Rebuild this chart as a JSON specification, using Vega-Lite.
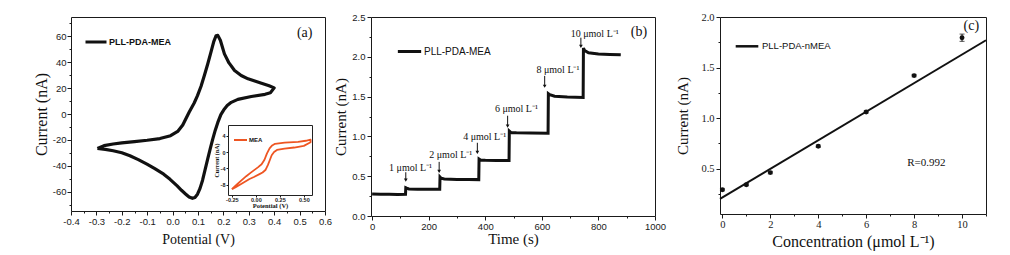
{
  "$schema": "https://vega.github.io/schema/vega-lite/v6.json",
  "background": "white",
  "padding": {"left": 32, "top": 11, "right": 5, "bottom": 5},
  "spacing": 0,
  "datasets": {
    "cv": [
      {"i": 1, "potential": -0.296, "current": -26.6, "series": "PLL-PDA-MEA"},
      {"i": 2, "potential": -0.27, "current": -24.5, "series": "PLL-PDA-MEA"},
      {"i": 3, "potential": -0.234, "current": -23.2, "series": "PLL-PDA-MEA"},
      {"i": 4, "potential": -0.2, "current": -22.3, "series": "PLL-PDA-MEA"},
      {"i": 5, "potential": -0.15, "current": -21.3, "series": "PLL-PDA-MEA"},
      {"i": 6, "potential": -0.1, "current": -20.3, "series": "PLL-PDA-MEA"},
      {"i": 7, "potential": -0.05, "current": -19.0, "series": "PLL-PDA-MEA"},
      {"i": 8, "potential": -0.008, "current": -16.8, "series": "PLL-PDA-MEA"},
      {"i": 9, "potential": 0.02, "current": -13.5, "series": "PLL-PDA-MEA"},
      {"i": 10, "potential": 0.04, "current": -8.5, "series": "PLL-PDA-MEA"},
      {"i": 11, "potential": 0.065, "current": 1.3, "series": "PLL-PDA-MEA"},
      {"i": 12, "potential": 0.085, "current": 8.5, "series": "PLL-PDA-MEA"},
      {"i": 13, "potential": 0.098, "current": 14.2, "series": "PLL-PDA-MEA"},
      {"i": 14, "potential": 0.112, "current": 21.5, "series": "PLL-PDA-MEA"},
      {"i": 15, "potential": 0.125, "current": 29.7, "series": "PLL-PDA-MEA"},
      {"i": 16, "potential": 0.138, "current": 38.5, "series": "PLL-PDA-MEA"},
      {"i": 17, "potential": 0.151, "current": 47.8, "series": "PLL-PDA-MEA"},
      {"i": 18, "potential": 0.162, "current": 56.0, "series": "PLL-PDA-MEA"},
      {"i": 19, "potential": 0.171, "current": 60.5, "series": "PLL-PDA-MEA"},
      {"i": 20, "potential": 0.178, "current": 60.8, "series": "PLL-PDA-MEA"},
      {"i": 21, "potential": 0.188, "current": 57.0, "series": "PLL-PDA-MEA"},
      {"i": 22, "potential": 0.204, "current": 46.5, "series": "PLL-PDA-MEA"},
      {"i": 23, "potential": 0.222, "current": 39.5, "series": "PLL-PDA-MEA"},
      {"i": 24, "potential": 0.244, "current": 33.6, "series": "PLL-PDA-MEA"},
      {"i": 25, "potential": 0.27, "current": 29.8, "series": "PLL-PDA-MEA"},
      {"i": 26, "potential": 0.297, "current": 27.2, "series": "PLL-PDA-MEA"},
      {"i": 27, "potential": 0.35, "current": 23.8, "series": "PLL-PDA-MEA"},
      {"i": 28, "potential": 0.38, "current": 21.8, "series": "PLL-PDA-MEA"},
      {"i": 29, "potential": 0.4, "current": 20.2, "series": "PLL-PDA-MEA"},
      {"i": 30, "potential": 0.385, "current": 16.5, "series": "PLL-PDA-MEA"},
      {"i": 31, "potential": 0.364, "current": 15.2, "series": "PLL-PDA-MEA"},
      {"i": 32, "potential": 0.31, "current": 13.5, "series": "PLL-PDA-MEA"},
      {"i": 33, "potential": 0.257, "current": 11.3, "series": "PLL-PDA-MEA"},
      {"i": 34, "potential": 0.231, "current": 9.0, "series": "PLL-PDA-MEA"},
      {"i": 35, "potential": 0.215, "current": 6.5, "series": "PLL-PDA-MEA"},
      {"i": 36, "potential": 0.204, "current": 3.9, "series": "PLL-PDA-MEA"},
      {"i": 37, "potential": 0.19, "current": -0.5, "series": "PLL-PDA-MEA"},
      {"i": 38, "potential": 0.178, "current": -6.5, "series": "PLL-PDA-MEA"},
      {"i": 39, "potential": 0.168, "current": -12.5, "series": "PLL-PDA-MEA"},
      {"i": 40, "potential": 0.158, "current": -19.4, "series": "PLL-PDA-MEA"},
      {"i": 41, "potential": 0.148, "current": -27.0, "series": "PLL-PDA-MEA"},
      {"i": 42, "potential": 0.138, "current": -34.9, "series": "PLL-PDA-MEA"},
      {"i": 43, "potential": 0.128, "current": -43.0, "series": "PLL-PDA-MEA"},
      {"i": 44, "potential": 0.118, "current": -51.2, "series": "PLL-PDA-MEA"},
      {"i": 45, "potential": 0.108, "current": -57.5, "series": "PLL-PDA-MEA"},
      {"i": 46, "potential": 0.098, "current": -62.0, "series": "PLL-PDA-MEA"},
      {"i": 47, "potential": 0.088, "current": -64.5, "series": "PLL-PDA-MEA"},
      {"i": 48, "potential": 0.078, "current": -65.2, "series": "PLL-PDA-MEA"},
      {"i": 49, "potential": 0.065, "current": -64.2, "series": "PLL-PDA-MEA"},
      {"i": 50, "potential": 0.052, "current": -62.0, "series": "PLL-PDA-MEA"},
      {"i": 51, "potential": 0.035, "current": -59.0, "series": "PLL-PDA-MEA"},
      {"i": 52, "potential": 0.018, "current": -55.6, "series": "PLL-PDA-MEA"},
      {"i": 53, "potential": -0.01, "current": -50.5, "series": "PLL-PDA-MEA"},
      {"i": 54, "potential": -0.035, "current": -46.5, "series": "PLL-PDA-MEA"},
      {"i": 55, "potential": -0.07, "current": -42.3, "series": "PLL-PDA-MEA"},
      {"i": 56, "potential": -0.101, "current": -38.8, "series": "PLL-PDA-MEA"},
      {"i": 57, "potential": -0.135, "current": -35.3, "series": "PLL-PDA-MEA"},
      {"i": 58, "potential": -0.168, "current": -32.3, "series": "PLL-PDA-MEA"},
      {"i": 59, "potential": -0.2, "current": -30.0, "series": "PLL-PDA-MEA"},
      {"i": 60, "potential": -0.234, "current": -28.4, "series": "PLL-PDA-MEA"},
      {"i": 61, "potential": -0.265, "current": -27.3, "series": "PLL-PDA-MEA"},
      {"i": 62, "potential": -0.296, "current": -26.6, "series": "PLL-PDA-MEA"}
    ],
    "inset": [
      {"i": 1, "potential": -0.25, "current": -9.1, "series": "MEA"},
      {"i": 2, "potential": -0.2, "current": -8.0, "series": "MEA"},
      {"i": 3, "potential": -0.153, "current": -7.0, "series": "MEA"},
      {"i": 4, "potential": -0.1, "current": -5.9, "series": "MEA"},
      {"i": 5, "potential": -0.049, "current": -4.97, "series": "MEA"},
      {"i": 6, "potential": 0.021, "current": -3.75, "series": "MEA"},
      {"i": 7, "potential": 0.06, "current": -3.0, "series": "MEA"},
      {"i": 8, "potential": 0.09, "current": -1.9, "series": "MEA"},
      {"i": 9, "potential": 0.115, "current": -0.4, "series": "MEA"},
      {"i": 10, "potential": 0.143, "current": 0.9, "series": "MEA"},
      {"i": 11, "potential": 0.17, "current": 1.6, "series": "MEA"},
      {"i": 12, "potential": 0.2, "current": 2.0, "series": "MEA"},
      {"i": 13, "potential": 0.3, "current": 2.3, "series": "MEA"},
      {"i": 14, "potential": 0.44, "current": 2.5, "series": "MEA"},
      {"i": 15, "potential": 0.52, "current": 2.75, "series": "MEA"},
      {"i": 16, "potential": 0.57, "current": 3.0, "series": "MEA"},
      {"i": 17, "potential": 0.57, "current": 2.4, "series": "MEA"},
      {"i": 18, "potential": 0.5, "current": 1.5, "series": "MEA"},
      {"i": 19, "potential": 0.4, "current": 1.1, "series": "MEA"},
      {"i": 20, "potential": 0.299, "current": 0.85, "series": "MEA"},
      {"i": 21, "potential": 0.22, "current": 0.5, "series": "MEA"},
      {"i": 22, "potential": 0.19, "current": 0.0, "series": "MEA"},
      {"i": 23, "potential": 0.165, "current": -0.8, "series": "MEA"},
      {"i": 24, "potential": 0.145, "current": -2.0, "series": "MEA"},
      {"i": 25, "potential": 0.125, "current": -3.2, "series": "MEA"},
      {"i": 26, "potential": 0.1, "current": -4.4, "series": "MEA"},
      {"i": 27, "potential": 0.07, "current": -5.0, "series": "MEA"},
      {"i": 28, "potential": 0.038, "current": -5.4, "series": "MEA"},
      {"i": 29, "potential": -0.02, "current": -6.1, "series": "MEA"},
      {"i": 30, "potential": -0.066, "current": -6.6, "series": "MEA"},
      {"i": 31, "potential": -0.153, "current": -7.8, "series": "MEA"},
      {"i": 32, "potential": -0.21, "current": -8.6, "series": "MEA"},
      {"i": 33, "potential": -0.25, "current": -9.1, "series": "MEA"}
    ],
    "amp": [
      {"t": 0, "current": 0.275, "series": "PLL-PDA-MEA"},
      {"t": 30, "current": 0.272, "series": "PLL-PDA-MEA"},
      {"t": 60, "current": 0.274, "series": "PLL-PDA-MEA"},
      {"t": 90, "current": 0.271, "series": "PLL-PDA-MEA"},
      {"t": 118, "current": 0.272, "series": "PLL-PDA-MEA"},
      {"t": 119, "current": 0.355, "series": "PLL-PDA-MEA"},
      {"t": 122, "current": 0.35, "series": "PLL-PDA-MEA"},
      {"t": 130, "current": 0.34, "series": "PLL-PDA-MEA"},
      {"t": 160, "current": 0.337, "series": "PLL-PDA-MEA"},
      {"t": 200, "current": 0.336, "series": "PLL-PDA-MEA"},
      {"t": 239, "current": 0.335, "series": "PLL-PDA-MEA"},
      {"t": 240, "current": 0.49, "series": "PLL-PDA-MEA"},
      {"t": 244, "current": 0.475, "series": "PLL-PDA-MEA"},
      {"t": 255, "current": 0.465, "series": "PLL-PDA-MEA"},
      {"t": 300, "current": 0.46, "series": "PLL-PDA-MEA"},
      {"t": 340, "current": 0.458, "series": "PLL-PDA-MEA"},
      {"t": 377, "current": 0.457, "series": "PLL-PDA-MEA"},
      {"t": 378, "current": 0.715, "series": "PLL-PDA-MEA"},
      {"t": 383, "current": 0.703, "series": "PLL-PDA-MEA"},
      {"t": 400, "current": 0.699, "series": "PLL-PDA-MEA"},
      {"t": 440, "current": 0.698, "series": "PLL-PDA-MEA"},
      {"t": 484, "current": 0.697, "series": "PLL-PDA-MEA"},
      {"t": 485, "current": 1.066, "series": "PLL-PDA-MEA"},
      {"t": 490, "current": 1.05, "series": "PLL-PDA-MEA"},
      {"t": 510, "current": 1.046, "series": "PLL-PDA-MEA"},
      {"t": 560, "current": 1.043, "series": "PLL-PDA-MEA"},
      {"t": 622, "current": 1.04, "series": "PLL-PDA-MEA"},
      {"t": 623, "current": 1.538, "series": "PLL-PDA-MEA"},
      {"t": 628, "current": 1.525, "series": "PLL-PDA-MEA"},
      {"t": 645, "current": 1.505, "series": "PLL-PDA-MEA"},
      {"t": 690, "current": 1.495, "series": "PLL-PDA-MEA"},
      {"t": 746, "current": 1.488, "series": "PLL-PDA-MEA"},
      {"t": 747, "current": 2.11, "series": "PLL-PDA-MEA"},
      {"t": 751, "current": 2.08, "series": "PLL-PDA-MEA"},
      {"t": 765, "current": 2.05, "series": "PLL-PDA-MEA"},
      {"t": 800, "current": 2.035, "series": "PLL-PDA-MEA"},
      {"t": 840, "current": 2.03, "series": "PLL-PDA-MEA"},
      {"t": 879, "current": 2.025, "series": "PLL-PDA-MEA"}
    ],
    "ampLabels": [
      {"t": 136, "y": 0.606, "label": "1 μmol L⁻¹"},
      {"t": 278, "y": 0.765, "label": "2 μmol L⁻¹"},
      {"t": 398, "y": 0.995, "label": "4 μmol L⁻¹"},
      {"t": 510, "y": 1.338, "label": "6 μmol L⁻¹"},
      {"t": 657, "y": 1.84, "label": "8 μmol L⁻¹"},
      {"t": 787, "y": 2.287, "label": "10 μmol L⁻¹"}
    ],
    "arrows": [
      {"t": 119, "top": 0.55, "tip": 0.45},
      {"t": 237, "top": 0.68, "tip": 0.56},
      {"t": 372, "top": 0.92, "tip": 0.8},
      {"t": 479, "top": 1.26, "tip": 1.13},
      {"t": 610, "top": 1.76, "tip": 1.63},
      {"t": 738, "top": 2.24, "tip": 2.13}
    ],
    "calib": [
      {"c": 0, "current": 0.29, "lo": 0.28, "hi": 0.3},
      {"c": 1, "current": 0.34, "lo": 0.33, "hi": 0.35},
      {"c": 2, "current": 0.46, "lo": 0.448, "hi": 0.472},
      {"c": 4, "current": 0.72, "lo": 0.708, "hi": 0.732},
      {"c": 6, "current": 1.06, "lo": 1.05, "hi": 1.07},
      {"c": 8, "current": 1.42, "lo": 1.408, "hi": 1.432},
      {"c": 10, "current": 1.795, "lo": 1.759, "hi": 1.831}
    ],
    "fit": [
      {"c": -0.1, "fit": 0.2, "series": "PLL-PDA-nMEA"},
      {"c": 11, "fit": 1.77, "series": "PLL-PDA-nMEA"}
    ],
    "letters": [
      {"panel": "a", "x": 0.52, "y": 62.4, "label": "(a)"},
      {"panel": "b", "x": 943, "y": 2.31, "label": "(b)"},
      {"panel": "c", "x": 10.39, "y": 1.908, "label": "(c)"}
    ],
    "rnote": [
      {"c": 8.51, "y": 0.555, "label": "R=0.992"}
    ]
  },
  "hconcat": [
    {
      "width": 254,
      "height": 194,
      "layer": [
        {
          "layer": [
            {
              "data": {"name": "cv"},
              "mark": {"type": "line", "strokeWidth": 3.2, "strokeJoin": "round"},
              "encoding": {
                "x": {
                  "field": "potential", "type": "quantitative",
                  "scale": {"domain": [-0.4, 0.6], "nice": false, "zero": false},
                  "axis": {
                    "orient": "bottom",
                    "title": "Potential (V)", "titleFontSize": 14, "titlePadding": 6,
                    "values": [-0.4, -0.3, -0.2, -0.1, 0, 0.1, 0.2, 0.3, 0.4, 0.5, 0.6],
                    "format": ".1f"
                  }
                },
                "y": {
                  "field": "current", "type": "quantitative",
                  "scale": {"domain": [-75, 75], "nice": false, "zero": false},
                  "axis": {
                    "orient": "left",
                    "title": "Current (nA)", "titleFontSize": 16, "titlePadding": 3,
                    "values": [-60, -40, -20, 0, 20, 40, 60],
                    "format": "d", "labelPadding": 1
                  }
                },
                "order": {"field": "i", "type": "quantitative"},
                "color": {
                  "field": "series", "type": "nominal",
                  "scale": {"range": ["#111111"]},
                  "legend": {"orient": "none", "legendX": 13, "legendY": 13, "title": null, "symbolType": "stroke", "symbolStrokeWidth": 3, "symbolSize": 441, "labelFont": "Liberation Sans", "labelFontSize": 9, "labelFontWeight": "bold", "labelOffset": 1, "labelColor": "#111111", "padding": 0}
                }
              }
            },
            {
              "data": {"name": "cv"},
              "mark": {"type": "line", "opacity": 0},
              "encoding": {
                "x": {"field": "potential", "type": "quantitative",
                  "axis": {"orient": "bottom", "values": [-0.35, -0.25, -0.15, -0.05, 0.05, 0.15, 0.25, 0.35, 0.45, 0.55], "labels": false, "tickSize": 2, "title": null}},
                "y": {"field": "current", "type": "quantitative",
                  "axis": {"orient": "left", "values": [-70, -50, -30, -10, 10, 30, 50, 70], "labels": false, "tickSize": 2, "title": null}},
                "order": {"field": "i", "type": "quantitative"}
              }
            },
            {
              "data": {"name": "letters"},
              "transform": [{"filter": "datum.panel === 'a'"}],
              "mark": {"type": "text", "font": "Liberation Serif", "fontSize": 14, "color": "#111111"},
              "encoding": {
                "x": {"field": "x", "type": "quantitative", "axis": null},
                "y": {"field": "y", "type": "quantitative", "axis": null},
                "text": {"field": "label", "type": "nominal"}
              }
            }
          ],
          "resolve": {"axis": {"x": "independent", "y": "independent"}}
        },
        {
          "layer": [
            {
              "data": {"name": "inset"},
              "mark": {"type": "line", "strokeWidth": 1.8, "strokeJoin": "round"},
              "encoding": {
                "x": {
                  "field": "potential", "type": "quantitative",
                  "scale": {"domain": [-0.29, 0.585], "nice": false, "zero": false, "range": [157, 241]},
                  "axis": {
                    "orient": "bottom", "offset": -16, "domain": true, "domainColor": "#222222",
                    "values": [-0.25, 0, 0.25, 0.5], "format": ".2f",
                    "tickSize": 2, "labelPadding": 0, "labelFontSize": 5.5, "labelFontWeight": "bold",
                    "title": "Potential (V)", "titleFontSize": 6.5, "titleFontWeight": "bold", "titlePadding": 0
                  }
                },
                "y": {
                  "field": "current", "type": "quantitative",
                  "scale": {"domain": [-10.5, 6.6], "nice": false, "zero": false, "range": [178, 108]},
                  "axis": {
                    "orient": "left", "offset": -157, "domain": true, "domainColor": "#222222",
                    "values": [-8, -4, 0, 4], "format": "d",
                    "tickSize": 2, "labelPadding": 1, "labelFontSize": 5.5, "labelFontWeight": "bold",
                    "title": "Current (nA)", "titleFontSize": 6, "titleFontWeight": "bold", "titlePadding": 1
                  }
                },
                "order": {"field": "i", "type": "quantitative"},
                "color": {
                  "field": "series", "type": "nominal",
                  "scale": {"range": ["#ee5522"]},
                  "legend": {"orient": "none", "legendX": 162, "legendY": 115.5, "title": null, "symbolType": "stroke", "symbolStrokeWidth": 2, "symbolSize": 169, "labelFont": "Liberation Sans", "labelFontSize": 6, "labelFontWeight": "bold", "labelOffset": 1, "labelColor": "#111111", "padding": 0}
                }
              }
            },
            {
              "data": {"name": "inset"},
              "mark": {"type": "line", "opacity": 0},
              "encoding": {
                "x": {
                  "field": "potential", "type": "quantitative",
                  "axis": {"orient": "top", "offset": -108, "domain": true, "domainColor": "#222222", "ticks": false, "labels": false, "title": null}
                },
                "y": {
                  "field": "current", "type": "quantitative",
                  "axis": {"orient": "right", "offset": -13, "domain": true, "domainColor": "#222222", "ticks": false, "labels": false, "title": null}
                },
                "order": {"field": "i", "type": "quantitative"}
              }
            }
          ],
          "resolve": {"axis": {"x": "independent", "y": "independent"}}
        }
      ],
      "resolve": {"scale": {"x": "independent", "y": "independent", "color": "independent"}, "legend": {"color": "independent"}}
    },
    {
      "spacing": 8,
      "hconcat": [
        {
          "width": 284,
          "height": 199,
          "layer": [
            {
              "data": {"name": "amp"},
              "mark": {"type": "line", "strokeWidth": 3, "strokeJoin": "miter"},
              "encoding": {
                "x": {
                  "field": "t", "type": "quantitative",
                  "scale": {"domain": [-4, 1000], "nice": false, "zero": false},
                  "axis": {
                    "orient": "bottom",
                    "title": "Time (s)", "titleFontSize": 15, "titlePadding": 0,
                    "values": [0, 200, 400, 600, 800, 1000],
                    "format": "d"
                  }
                },
                "y": {
                  "field": "current", "type": "quantitative",
                  "scale": {"domain": [0, 2.5], "nice": false, "zero": false},
                  "axis": {
                    "orient": "left",
                    "title": "Current (nA)", "titleFontSize": 15, "titlePadding": 3,
                    "values": [0, 0.5, 1, 1.5, 2, 2.5],
                    "format": ".1f", "labelPadding": 2
                  }
                },
                "color": {
                  "field": "series", "type": "nominal",
                  "scale": {"range": ["#111111"]},
                  "legend": {"orient": "none", "legendX": 25, "legendY": 21, "title": null, "symbolType": "stroke", "symbolStrokeWidth": 3, "symbolSize": 543, "labelFont": "Liberation Sans", "labelFontSize": 10, "labelOffset": 1, "labelColor": "#111111", "padding": 0}
                }
              }
            },
            {
              "data": {"name": "amp"},
              "mark": {"type": "line", "opacity": 0},
              "encoding": {
                "x": {"field": "t", "type": "quantitative",
                  "axis": {"orient": "bottom", "values": [100, 300, 500, 700, 900], "labels": false, "tickSize": 2, "title": null}},
                "y": {"field": "current", "type": "quantitative",
                  "axis": {"orient": "left", "values": [0.25, 0.75, 1.25, 1.75, 2.25], "labels": false, "tickSize": 2, "title": null}}
              }
            },
            {
              "data": {"name": "arrows"},
              "mark": {"type": "rule", "strokeWidth": 1, "color": "#111111"},
              "encoding": {
                "x": {"field": "t", "type": "quantitative", "axis": null},
                "y": {"field": "top", "type": "quantitative", "axis": null},
                "y2": {"field": "tip"}
              }
            },
            {
              "data": {"name": "arrows"},
              "mark": {"type": "point", "shape": "triangle-down", "filled": true, "size": 14, "color": "#111111", "opacity": 1},
              "encoding": {
                "x": {"field": "t", "type": "quantitative", "axis": null},
                "y": {"field": "tip", "type": "quantitative", "axis": null}
              }
            },
            {
              "data": {"name": "ampLabels"},
              "mark": {"type": "text", "font": "Liberation Serif", "fontSize": 10, "color": "#111111"},
              "encoding": {
                "x": {"field": "t", "type": "quantitative", "axis": null},
                "y": {"field": "y", "type": "quantitative", "axis": null},
                "text": {"field": "label", "type": "nominal"}
              }
            },
            {
              "data": {"name": "letters"},
              "transform": [{"filter": "datum.panel === 'b'"}],
              "mark": {"type": "text", "font": "Liberation Serif", "fontSize": 14, "color": "#111111"},
              "encoding": {
                "x": {"field": "x", "type": "quantitative", "axis": null},
                "y": {"field": "y", "type": "quantitative", "axis": null},
                "text": {"field": "label", "type": "nominal"}
              }
            }
          ],
          "resolve": {"axis": {"x": "independent", "y": "independent"}}
        },
        {
          "width": 266,
          "height": 197,
          "layer": [
            {
              "data": {"name": "fit"},
              "mark": {"type": "line", "strokeWidth": 2},
              "encoding": {
                "x": {
                  "field": "c", "type": "quantitative",
                  "scale": {"domain": [-0.1, 11], "nice": false, "zero": false},
                  "axis": {
                    "orient": "bottom",
                    "title": "Concentration (μmol L⁻¹)", "titleFontSize": 16, "titlePadding": 3,
                    "values": [0, 2, 4, 6, 8, 10],
                    "format": "d", "labelFont": "Liberation Serif", "labelFontSize": 10.5
                  }
                },
                "y": {
                  "field": "fit", "type": "quantitative",
                  "scale": {"domain": [0.05, 2.0], "nice": false, "zero": false},
                  "axis": {
                    "orient": "left",
                    "title": "Current (nA)", "titleFontSize": 15, "titlePadding": 10,
                    "values": [0.5, 1, 1.5, 2],
                    "format": ".1f", "labelFont": "Liberation Serif", "labelFontSize": 10.5, "labelPadding": 2
                  }
                },
                "color": {
                  "field": "series", "type": "nominal",
                  "scale": {"range": ["#111111"]},
                  "legend": {"orient": "none", "legendX": 14, "legendY": 16.3, "title": null, "symbolType": "stroke", "symbolStrokeWidth": 2.5, "symbolSize": 511, "labelFont": "Liberation Sans", "labelFontSize": 9.5, "labelOffset": 2, "labelColor": "#111111", "padding": 0}
                }
              }
            },
            {
              "data": {"name": "fit"},
              "mark": {"type": "line", "opacity": 0},
              "encoding": {
                "x": {"field": "c", "type": "quantitative",
                  "axis": {"orient": "bottom", "values": [1, 3, 5, 7, 9, 11], "labels": false, "tickSize": 2, "title": null}},
                "y": {"field": "fit", "type": "quantitative",
                  "axis": {"orient": "left", "values": [0.25, 0.75, 1.25, 1.75], "labels": false, "tickSize": 2, "title": null}}
              }
            },
            {
              "data": {"name": "calib"},
              "mark": {"type": "rule", "strokeWidth": 1, "color": "#111111"},
              "encoding": {
                "x": {"field": "c", "type": "quantitative", "axis": null},
                "y": {"field": "lo", "type": "quantitative", "axis": null},
                "y2": {"field": "hi"}
              }
            },
            {
              "data": {"name": "calib"},
              "mark": {"type": "tick", "orient": "horizontal", "size": 5, "thickness": 1, "color": "#111111"},
              "encoding": {
                "x": {"field": "c", "type": "quantitative", "axis": null},
                "y": {"field": "hi", "type": "quantitative", "axis": null}
              }
            },
            {
              "data": {"name": "calib"},
              "mark": {"type": "tick", "orient": "horizontal", "size": 5, "thickness": 1, "color": "#111111"},
              "encoding": {
                "x": {"field": "c", "type": "quantitative", "axis": null},
                "y": {"field": "lo", "type": "quantitative", "axis": null}
              }
            },
            {
              "data": {"name": "calib"},
              "mark": {"type": "point", "shape": "circle", "filled": true, "size": 24, "color": "#111111", "opacity": 1},
              "encoding": {
                "x": {"field": "c", "type": "quantitative", "axis": null},
                "y": {"field": "current", "type": "quantitative", "axis": null}
              }
            },
            {
              "data": {"name": "rnote"},
              "mark": {"type": "text", "font": "Liberation Serif", "fontSize": 11, "color": "#111111"},
              "encoding": {
                "x": {"field": "c", "type": "quantitative", "axis": null},
                "y": {"field": "y", "type": "quantitative", "axis": null},
                "text": {"field": "label", "type": "nominal"}
              }
            },
            {
              "data": {"name": "letters"},
              "transform": [{"filter": "datum.panel === 'c'"}],
              "mark": {"type": "text", "font": "Liberation Serif", "fontSize": 14, "color": "#111111"},
              "encoding": {
                "x": {"field": "x", "type": "quantitative", "axis": null},
                "y": {"field": "y", "type": "quantitative", "axis": null},
                "text": {"field": "label", "type": "nominal"}
              }
            }
          ],
          "resolve": {"axis": {"x": "independent", "y": "independent"}}
        }
      ],
      "resolve": {"scale": {"color": "independent"}, "legend": {"color": "independent"}}
    }
  ],
  "resolve": {"scale": {"color": "independent"}, "legend": {"color": "independent"}},
  "config": {
    "locale": {"number": {"decimal": ".", "thousands": ",", "grouping": [3], "currency": ["$", ""], "minus": "-"}},
    "view": {"stroke": "#1a1a1a", "strokeWidth": 1},
    "axis": {
      "grid": false, "domain": false,
      "tickColor": "#1a1a1a", "tickSize": 4, "tickWidth": 1,
      "labelColor": "#1a1a1a", "labelFont": "Liberation Sans", "labelFontSize": 9.5, "labelPadding": 1.5,
      "labelFlush": false, "labelOverlap": false,
      "titleFont": "Liberation Serif", "titleFontWeight": "normal", "titleColor": "#111111"
    }
  }
}
